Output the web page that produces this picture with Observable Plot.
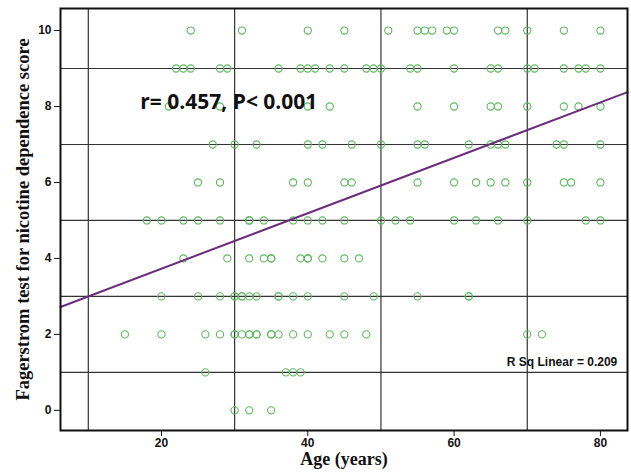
<!DOCTYPE html>
<html>
<head>
<meta charset="utf-8">
<script src="https://cdn.jsdelivr.net/npm/d3@7"></script>
<script src="https://cdn.jsdelivr.net/npm/@observablehq/plot@0.6"></script>
<style>
  html, body { margin: 0; padding: 0; background: #fff; }
</style>
</head>
<body>
<div id="chart"></div>
<script>
const score10 = [24, 31, 40, 45, 51, 55, 56, 57, 59, 60, 66, 67, 70, 75, 80];
const score9 = [22, 23, 24, 28, 29, 36, 39, 40, 41, 43, 45, 48, 49, 50, 54, 55, 60, 65, 66, 70, 71, 75, 77, 78, 80];
const score8 = [21, 28, 40, 43, 55, 60, 65, 66, 70, 75, 77, 80];
const score7 = [27, 30, 33, 40, 42, 46, 50, 55, 56, 62, 65, 66, 67, 74, 75, 80];
const score6 = [25, 28, 38, 40, 45, 46, 55, 60, 63, 65, 67, 70, 75, 76, 80];
const score5 = [18, 20, 23, 25, 28, 32, 32, 34, 38, 40, 42, 45, 50, 52, 54, 60, 63, 66, 70, 78, 80];
const score4 = [23, 29, 32, 34, 35, 35, 39, 40, 40, 42, 45, 47];
const score3 = [20, 25, 28, 30, 30, 31, 31, 32, 33, 36, 36, 38, 40, 45, 49, 55, 62, 62];
const score2 = [15, 20, 26, 28, 30, 30, 31, 32, 32, 33, 33, 35, 35, 36, 38, 40, 43, 45, 48, 70, 72];
const score1 = [26, 37, 38, 39];
const score0 = [30, 32, 35];

const fitIntercept = 2.27;
const fitSlope = 0.073;
const annotation = "r= 0.457, P< 0.001";
const rsqLabel = "R Sq Linear = 0.209";

const xTicks = [20, 40, 60, 80];
const yTicks = [0, 2, 4, 6, 8, 10];
const xGrid = [10, 30, 50, 70];
const yGrid = [1, 3, 5, 7, 9];
const xDomain = [6.2, 83.7];
const yDomain = [-0.53, 10.58];

const groups = [score0, score1, score2, score3, score4, score5, score6, score7, score8, score9, score10];
const points = groups.flatMap((ages, s) => ages.map(age => ({age, score: s})));
const fitLine = xDomain.map(x => ({age: x, score: fitIntercept + fitSlope * x}));

const chart = Plot.plot({
  width: 631,
  height: 472,
  marginLeft: 60,
  marginRight: 4,
  marginTop: 8,
  marginBottom: 42,
  style: {fontFamily: "'Liberation Sans', Arial, sans-serif", fontSize: "12px", color: "#111", background: "#fff"},
  x: {domain: xDomain},
  y: {domain: yDomain},
  marks: [
    Plot.ruleX(xGrid, {stroke: "#333", strokeWidth: 1.2}),
    Plot.ruleY(yGrid, {stroke: "#333", strokeWidth: 1.2}),
    Plot.dot(points, {x: "age", y: "score", r: 3.6, stroke: "#5cb85c", strokeWidth: 1.1, fill: "none"}),
    Plot.line(fitLine, {x: "age", y: "score", stroke: "#6b2d7b", strokeWidth: 2}),
    Plot.frame({stroke: "#111", strokeWidth: 2}),
    Plot.axisX(xTicks, {tickSize: 6, tickPadding: 2, label: null, fontWeight: "bold", fontSize: 12}),
    Plot.axisY(yTicks, {tickSize: 6, tickPadding: 3, label: null, fontWeight: "bold", fontSize: 12}),
    Plot.text([annotation], {x: 17.1, y: 8.1, textAnchor: "start", fontSize: 21, fontWeight: "bold", fill: "#111", fontFamily: "'Open Sans', sans-serif"}),
    Plot.text([rsqLabel], {x: 82.3, y: 1.27, textAnchor: "end", fontSize: 12, fontWeight: "bold", fill: "#111"}),
    Plot.text(["Age (years)"], {frameAnchor: "bottom", dy: 34, fontSize: 18, fontWeight: "bold", fontFamily: "'Liberation Serif', 'Times New Roman', serif", fill: "#111"}),
    Plot.text(["Fagerstrom test for nicotine dependence score"], {frameAnchor: "left", textAnchor: "middle", dx: -37, rotate: -90, fontSize: 18.5, fontWeight: "bold", fontFamily: "'Liberation Serif', 'Times New Roman', serif", fill: "#111"})
  ]
});
document.getElementById("chart").appendChild(chart);
</script>
</body>
</html>
